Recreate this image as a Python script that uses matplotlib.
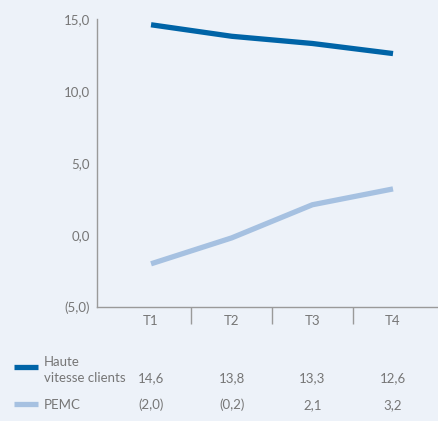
import matplotlib
matplotlib.use("Agg")
import matplotlib.pyplot as plt
from matplotlib.lines import Line2D

quarters = ["T1", "T2", "T3", "T4"]
hvc_values = [14.6, 13.8, 13.3, 12.6]
pemc_values = [-2.0, -0.2, 2.1, 3.2]
series_names = ["Haute\nvitesse clients", "PEMC"]
y_ticks = [-5, 0, 5, 10, 15]

bg = "#edf2f9"
dark_blue = "#0064a7"
light_blue = "#a6c1e1"
text_gray = "#767676"
axis_gray = "#9a9a9a"

plt.rcParams["font.family"] = ["Lato", "DejaVu Sans"]


def fmt(v):
    s = "%.1f" % abs(v)
    s = s.replace(".", ",")
    return "(%s)" % s if v < 0 else s


fig = plt.figure(figsize=(4.39, 4.21), dpi=100, facecolor=bg)
W, H = 439, 421
ax = fig.add_axes([97 / W, 1 - 307 / H, 1 - 97 / W, 288 / H])
ax.set_facecolor(bg)

x = list(range(len(quarters)))
ax.plot(x, hvc_values, color=dark_blue, lw=3.8, solid_capstyle="butt")
ax.plot(x, pemc_values, color=light_blue, lw=3.8, solid_capstyle="butt")

ax.set_xlim(-0.67, 3.57)
ax.set_ylim(-5, 15)
ax.set_yticks(y_ticks)
ax.set_yticklabels([fmt(v) for v in y_ticks])
ax.set_xticks(x)
ax.set_xticklabels(quarters)
ax.set_xticks([0.5, 1.5, 2.5], minor=True)
ax.tick_params(axis="both", which="major", length=0, labelsize=9.5,
               labelcolor=text_gray)
ax.tick_params(axis="y", pad=5)
ax.tick_params(axis="x", pad=6)
ax.tick_params(axis="x", which="minor", length=12.5, width=1, color=axis_gray,
               direction="out")

for side in ["top", "right"]:
    ax.spines[side].set_visible(False)
for side in ["left", "bottom"]:
    ax.spines[side].set_color(axis_gray)
    ax.spines[side].set_linewidth(1)

# legend / data table below the chart
rows_y = [382, 409]
colors = [dark_blue, light_blue]
data = [hvc_values, pemc_values]
sample_y = [367, 404]
for name, col, vals, ry, sy in zip(series_names, colors, data, rows_y, sample_y):
    fig.add_artist(Line2D([14 / W, 38 / W], [1 - sy / H, 1 - sy / H],
                          color=col, lw=3.8, solid_capstyle="butt"))
    fig.text(44 / W, 1 - ry / H, name, ha="left", va="baseline",
             fontsize=9.5, color=text_gray, linespacing=1.35)
    for xi, v in zip(x, vals):
        xp = ax.transData.transform((xi, 0))[0] / W
        fig.text(xp, 1 - ry / H, fmt(v), ha="center", va="baseline",
                 fontsize=9.5, color=text_gray)

fig.savefig("out.png", dpi=100, facecolor=bg)
